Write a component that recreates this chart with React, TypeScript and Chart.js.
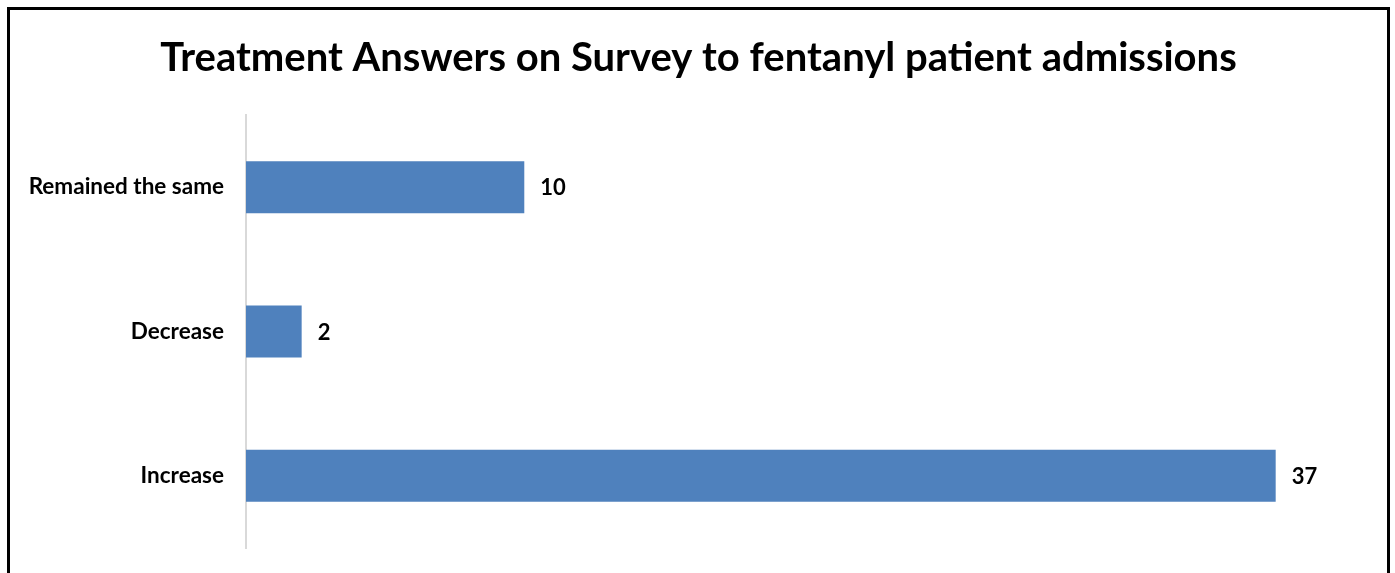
import React, { useEffect, useRef } from "react";
import { Chart, registerables } from "chart.js";

Chart.register(...registerables);

const TITLE = "Treatment Answers on Survey to fentanyl patient admissions";
const categories = ["Remained the same", "Decrease", "Increase"];
const values = [10, 2, 37];
const X_MAX = 41;
const BAR_COLOR = "#4F81BD";
const FONT = "Lato, 'Liberation Sans', sans-serif";

const valueLabels = {
  id: "valueLabels",
  afterDatasetsDraw(chart: any) {
    const ctx = chart.ctx;
    const meta = chart.getDatasetMeta(0);
    ctx.save();
    ctx.font = `bold 22px ${FONT}`;
    ctx.fillStyle = "#000";
    ctx.textAlign = "left";
    ctx.textBaseline = "middle";
    meta.data.forEach((bar: any, i: number) => {
      ctx.fillText(String(values[i]), bar.x + 16, bar.y + 1);
    });
    ctx.restore();
  },
};

export default function App() {
  const ref = useRef<HTMLCanvasElement | null>(null);

  useEffect(() => {
    document.documentElement.style.overflow = "hidden";
    const canvas = ref.current;
    if (!canvas) return;
    const chart = new Chart(canvas, {
      type: "bar",
      data: {
        labels: categories,
        datasets: [
          {
            data: values,
            backgroundColor: BAR_COLOR,
            borderWidth: 0,
            barPercentage: 0.61,
            categoryPercentage: 0.59,
          },
        ],
      },
      options: {
        indexAxis: "y",
        animation: false,
        responsive: false,
        maintainAspectRatio: false,
        layout: { padding: { top: 0, left: 0, right: 0, bottom: 25 } },
        plugins: {
          legend: { display: false },
          tooltip: { enabled: false },
          title: {
            display: true,
            text: TITLE,
            color: "#000",
            font: { family: FONT, size: 40, weight: "bold" },
            padding: { top: 24, bottom: 33 },
          },
        },
        scales: {
          x: {
            display: false,
            min: 0,
            max: X_MAX,
          },
          y: {
            afterFit(scale: any) {
              scale.width = 236;
              scale.paddingTop = 0;
              scale.paddingBottom = 0;
            },
            grid: { display: false, drawTicks: false },
            border: { display: true, color: "#d9d9d9", width: 2 },
            ticks: {
              color: "#000",
              padding: 22,
              font: { family: FONT, size: 22.5, weight: "bold" },
            },
          },
        },
      },
      plugins: [valueLabels],
    });
    return () => chart.destroy();
  }, []);

  return (
    <div
      style={{
        position: "fixed",
        left: 7,
        top: 7,
        width: 1383,
        height: 620,
        border: "3px solid #000",
        boxSizing: "border-box",
        background: "#fff",
      }}
    >
      <canvas ref={ref} width={1377} height={563} style={{ display: "block" }} />
    </div>
  );
}
